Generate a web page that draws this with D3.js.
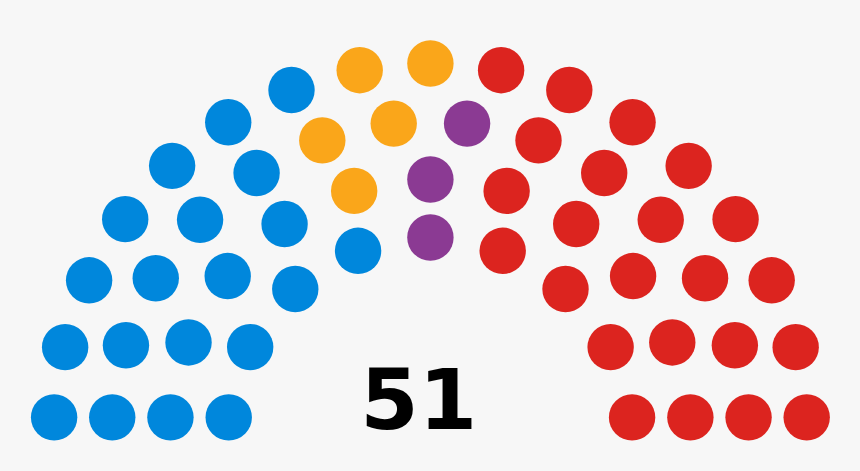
<!DOCTYPE html>
<html>
<head>
<meta charset="utf-8">
<script src="https://cdn.jsdelivr.net/npm/d3@7"></script>
<style>
  html, body { margin: 0; padding: 0; background: #f7f7f7; }
</style>
</head>
<body>
<div id="chart"></div>
<script>
// seats per party, left to right
var parties = ["Party A", "Party B", "Party C", "Party D"];
var seats = [20, 5, 3, 23];
var colors = ["#0087dc", "#faa61a", "#8b3a93", "#dc241f"];
var totalLabel = "51";

var width = 860, height = 471;
var unit = 232; // pixels per layout unit

var x = d3.scaleLinear().domain([-1, 1]).range([430.4 - unit, 430.4 + unit]);
var y = d3.scaleLinear().domain([0, 1]).range([440.5, 440.5 - unit]);

var total = d3.sum(seats);

// how many rows we need
function rowCap(n, i) {
  return Math.PI / (2 * Math.asin(2 / (3 * n + 4 * i - 2)));
}
var rows = 0, spots = 0;
while (spots < total) {
  rows++;
  spots = 0;
  for (var i = 1; i <= rows; i++) spots += Math.floor(rowCap(rows, i));
}
var seatR = 0.4 / rows;

// positions, row by row
var pos = [];
var used = 0;
for (var i = 1; i <= rows; i++) {
  var R = (3 * rows + 4 * i - 2) / (4 * rows);
  var J = i == rows ? total - used : Math.floor(total / spots * rowCap(rows, i));
  used += J;
  var a0 = Math.sin(seatR / R);
  for (var j = 0; j < J; j++) {
    var a = J == 1 ? Math.PI / 2 : j * (Math.PI - 2 * a0) / (J - 1) + a0;
    pos.push({ angle: a, R: R, px: -R * Math.cos(a), py: R * Math.sin(a) });
  }
}
pos.sort(function(a, b) {
  if (Math.abs(a.angle - b.angle) > 1e-9) return a.angle - b.angle;
  return b.R - a.R;
});

// hand out seats to parties in order
var k = 0;
seats.forEach(function(n, p) {
  for (var s = 0; s < n; s++) pos[k++].party = p;
});

var svg = d3.select("#chart").append("svg")
    .attr("width", width)
    .attr("height", height);

svg.append("rect")
    .attr("width", width)
    .attr("height", height)
    .attr("fill", "#f7f7f7");

svg.selectAll(".seat")
    .data(pos)
  .enter().append("circle")
    .attr("class", "seat")
    .attr("cx", function(d) { return x(d.px); })
    .attr("cy", function(d) { return y(d.py); })
    .attr("r", x(seatR) - x(0))
    .attr("fill", function(d) { return colors[d.party]; });

svg.append("text")
    .attr("x", x(-0.05))
    .attr("y", y(0.05))
    .attr("text-anchor", "middle")
    .style("font-family", "DejaVu Sans, sans-serif")
    .style("font-weight", "bold")
    .style("font-size", "84px")
    .text(totalLabel);
</script>
</body>
</html>
